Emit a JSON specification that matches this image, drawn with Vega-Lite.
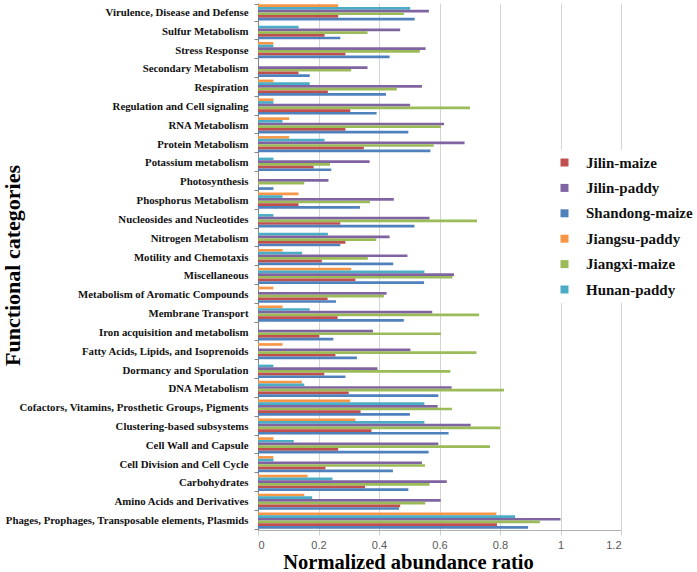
{
  "$schema": "https://vega.github.io/schema/vega-lite/v6.json",
  "width": 363,
  "height": 527,
  "autosize": "none",
  "padding": {"left": 258, "top": 3, "right": 76, "bottom": 42},
  "background": "white",
  "config": {"view": {"stroke": null}},
  "data": {"values": [
    {"c":"Virulence, Disease and Defense","s":"Jiangsu-paddy","v":0.265},{"c":"Virulence, Disease and Defense","s":"Hunan-paddy","v":0.503},{"c":"Virulence, Disease and Defense","s":"Jilin-paddy","v":0.565},{"c":"Virulence, Disease and Defense","s":"Jiangxi-maize","v":0.482},{"c":"Virulence, Disease and Defense","s":"Jilin-maize","v":0.265},{"c":"Virulence, Disease and Defense","s":"Shandong-maize","v":0.518},
    {"c":"Sulfur Metabolism","s":"Jiangsu-paddy","v":0},{"c":"Sulfur Metabolism","s":"Hunan-paddy","v":0.134},{"c":"Sulfur Metabolism","s":"Jilin-paddy","v":0.47},{"c":"Sulfur Metabolism","s":"Jiangxi-maize","v":0.362},{"c":"Sulfur Metabolism","s":"Jilin-maize","v":0.22},{"c":"Sulfur Metabolism","s":"Shandong-maize","v":0.272},
    {"c":"Stress Response","s":"Jiangsu-paddy","v":0.051},{"c":"Stress Response","s":"Hunan-paddy","v":0.051},{"c":"Stress Response","s":"Jilin-paddy","v":0.554},{"c":"Stress Response","s":"Jiangxi-maize","v":0.535},{"c":"Stress Response","s":"Jilin-maize","v":0.289},{"c":"Stress Response","s":"Shandong-maize","v":0.435},
    {"c":"Secondary Metabolism","s":"Jiangsu-paddy","v":0},{"c":"Secondary Metabolism","s":"Hunan-paddy","v":0},{"c":"Secondary Metabolism","s":"Jilin-paddy","v":0.362},{"c":"Secondary Metabolism","s":"Jiangxi-maize","v":0.308},{"c":"Secondary Metabolism","s":"Jilin-maize","v":0.134},{"c":"Secondary Metabolism","s":"Shandong-maize","v":0.171},
    {"c":"Respiration","s":"Jiangsu-paddy","v":0.051},{"c":"Respiration","s":"Hunan-paddy","v":0.171},{"c":"Respiration","s":"Jilin-paddy","v":0.542},{"c":"Respiration","s":"Jiangxi-maize","v":0.459},{"c":"Respiration","s":"Jilin-maize","v":0.231},{"c":"Respiration","s":"Shandong-maize","v":0.423},
    {"c":"Regulation and Cell signaling","s":"Jiangsu-paddy","v":0.051},{"c":"Regulation and Cell signaling","s":"Hunan-paddy","v":0.051},{"c":"Regulation and Cell signaling","s":"Jilin-paddy","v":0.503},{"c":"Regulation and Cell signaling","s":"Jiangxi-maize","v":0.701},{"c":"Regulation and Cell signaling","s":"Jilin-maize","v":0.305},{"c":"Regulation and Cell signaling","s":"Shandong-maize","v":0.392},
    {"c":"RNA Metabolism","s":"Jiangsu-paddy","v":0.103},{"c":"RNA Metabolism","s":"Hunan-paddy","v":0.081},{"c":"RNA Metabolism","s":"Jilin-paddy","v":0.615},{"c":"RNA Metabolism","s":"Jiangxi-maize","v":0.605},{"c":"RNA Metabolism","s":"Jilin-maize","v":0.289},{"c":"RNA Metabolism","s":"Shandong-maize","v":0.497},
    {"c":"Protein Metabolism","s":"Jiangsu-paddy","v":0.103},{"c":"Protein Metabolism","s":"Hunan-paddy","v":0.22},{"c":"Protein Metabolism","s":"Jilin-paddy","v":0.683},{"c":"Protein Metabolism","s":"Jiangxi-maize","v":0.581},{"c":"Protein Metabolism","s":"Jilin-maize","v":0.35},{"c":"Protein Metabolism","s":"Shandong-maize","v":0.57},
    {"c":"Potassium metabolism","s":"Jiangsu-paddy","v":0},{"c":"Potassium metabolism","s":"Hunan-paddy","v":0.051},{"c":"Potassium metabolism","s":"Jilin-paddy","v":0.369},{"c":"Potassium metabolism","s":"Jiangxi-maize","v":0.238},{"c":"Potassium metabolism","s":"Jilin-maize","v":0.184},{"c":"Potassium metabolism","s":"Shandong-maize","v":0.242},
    {"c":"Photosynthesis","s":"Jiangsu-paddy","v":0},{"c":"Photosynthesis","s":"Hunan-paddy","v":0},{"c":"Photosynthesis","s":"Jilin-paddy","v":0.233},{"c":"Photosynthesis","s":"Jiangxi-maize","v":0.153},{"c":"Photosynthesis","s":"Jilin-maize","v":0},{"c":"Photosynthesis","s":"Shandong-maize","v":0.051},
    {"c":"Phosphorus Metabolism","s":"Jiangsu-paddy","v":0.134},{"c":"Phosphorus Metabolism","s":"Hunan-paddy","v":0.081},{"c":"Phosphorus Metabolism","s":"Jilin-paddy","v":0.449},{"c":"Phosphorus Metabolism","s":"Jiangxi-maize","v":0.37},{"c":"Phosphorus Metabolism","s":"Jilin-maize","v":0.134},{"c":"Phosphorus Metabolism","s":"Shandong-maize","v":0.337},
    {"c":"Nucleosides and Nucleotides","s":"Jiangsu-paddy","v":0},{"c":"Nucleosides and Nucleotides","s":"Hunan-paddy","v":0.051},{"c":"Nucleosides and Nucleotides","s":"Jilin-paddy","v":0.567},{"c":"Nucleosides and Nucleotides","s":"Jiangxi-maize","v":0.724},{"c":"Nucleosides and Nucleotides","s":"Jilin-maize","v":0.272},{"c":"Nucleosides and Nucleotides","s":"Shandong-maize","v":0.517},
    {"c":"Nitrogen Metabolism","s":"Jiangsu-paddy","v":0},{"c":"Nitrogen Metabolism","s":"Hunan-paddy","v":0.231},{"c":"Nitrogen Metabolism","s":"Jilin-paddy","v":0.435},{"c":"Nitrogen Metabolism","s":"Jiangxi-maize","v":0.391},{"c":"Nitrogen Metabolism","s":"Jilin-maize","v":0.289},{"c":"Nitrogen Metabolism","s":"Shandong-maize","v":0.272},
    {"c":"Motility and Chemotaxis","s":"Jiangsu-paddy","v":0.081},{"c":"Motility and Chemotaxis","s":"Hunan-paddy","v":0.146},{"c":"Motility and Chemotaxis","s":"Jilin-paddy","v":0.494},{"c":"Motility and Chemotaxis","s":"Jiangxi-maize","v":0.363},{"c":"Motility and Chemotaxis","s":"Jilin-maize","v":0.211},{"c":"Motility and Chemotaxis","s":"Shandong-maize","v":0.447},
    {"c":"Miscellaneous","s":"Jiangsu-paddy","v":0.308},{"c":"Miscellaneous","s":"Hunan-paddy","v":0.55},{"c":"Miscellaneous","s":"Jilin-paddy","v":0.648},{"c":"Miscellaneous","s":"Jiangxi-maize","v":0.643},{"c":"Miscellaneous","s":"Jilin-maize","v":0.322},{"c":"Miscellaneous","s":"Shandong-maize","v":0.549},
    {"c":"Metabolism of Aromatic Compounds","s":"Jiangsu-paddy","v":0.051},{"c":"Metabolism of Aromatic Compounds","s":"Hunan-paddy","v":0},{"c":"Metabolism of Aromatic Compounds","s":"Jilin-paddy","v":0.425},{"c":"Metabolism of Aromatic Compounds","s":"Jiangxi-maize","v":0.416},{"c":"Metabolism of Aromatic Compounds","s":"Jilin-maize","v":0.23},{"c":"Metabolism of Aromatic Compounds","s":"Shandong-maize","v":0.258},
    {"c":"Membrane Transport","s":"Jiangsu-paddy","v":0.081},{"c":"Membrane Transport","s":"Hunan-paddy","v":0.171},{"c":"Membrane Transport","s":"Jilin-paddy","v":0.576},{"c":"Membrane Transport","s":"Jiangxi-maize","v":0.731},{"c":"Membrane Transport","s":"Jilin-maize","v":0.263},{"c":"Membrane Transport","s":"Shandong-maize","v":0.482},
    {"c":"Iron acquisition and metabolism","s":"Jiangsu-paddy","v":0},{"c":"Iron acquisition and metabolism","s":"Hunan-paddy","v":0},{"c":"Iron acquisition and metabolism","s":"Jilin-paddy","v":0.38},{"c":"Iron acquisition and metabolism","s":"Jiangxi-maize","v":0.605},{"c":"Iron acquisition and metabolism","s":"Jilin-maize","v":0.202},{"c":"Iron acquisition and metabolism","s":"Shandong-maize","v":0.249},
    {"c":"Fatty Acids, Lipids, and Isoprenoids","s":"Jiangsu-paddy","v":0.081},{"c":"Fatty Acids, Lipids, and Isoprenoids","s":"Hunan-paddy","v":0},{"c":"Fatty Acids, Lipids, and Isoprenoids","s":"Jilin-paddy","v":0.504},{"c":"Fatty Acids, Lipids, and Isoprenoids","s":"Jiangxi-maize","v":0.722},{"c":"Fatty Acids, Lipids, and Isoprenoids","s":"Jilin-maize","v":0.256},{"c":"Fatty Acids, Lipids, and Isoprenoids","s":"Shandong-maize","v":0.327},
    {"c":"Dormancy and Sporulation","s":"Jiangsu-paddy","v":0},{"c":"Dormancy and Sporulation","s":"Hunan-paddy","v":0.051},{"c":"Dormancy and Sporulation","s":"Jilin-paddy","v":0.395},{"c":"Dormancy and Sporulation","s":"Jiangxi-maize","v":0.636},{"c":"Dormancy and Sporulation","s":"Jilin-maize","v":0.219},{"c":"Dormancy and Sporulation","s":"Shandong-maize","v":0.289},
    {"c":"DNA Metabolism","s":"Jiangsu-paddy","v":0.145},{"c":"DNA Metabolism","s":"Hunan-paddy","v":0.153},{"c":"DNA Metabolism","s":"Jilin-paddy","v":0.64},{"c":"DNA Metabolism","s":"Jiangxi-maize","v":0.813},{"c":"DNA Metabolism","s":"Jilin-maize","v":0.3},{"c":"DNA Metabolism","s":"Shandong-maize","v":0.596},
    {"c":"Cofactors, Vitamins, Prosthetic Groups, Pigments","s":"Jiangsu-paddy","v":0.305},{"c":"Cofactors, Vitamins, Prosthetic Groups, Pigments","s":"Hunan-paddy","v":0.55},{"c":"Cofactors, Vitamins, Prosthetic Groups, Pigments","s":"Jilin-paddy","v":0.594},{"c":"Cofactors, Vitamins, Prosthetic Groups, Pigments","s":"Jiangxi-maize","v":0.641},{"c":"Cofactors, Vitamins, Prosthetic Groups, Pigments","s":"Jilin-maize","v":0.339},{"c":"Cofactors, Vitamins, Prosthetic Groups, Pigments","s":"Shandong-maize","v":0.502},
    {"c":"Clustering-based subsystems","s":"Jiangsu-paddy","v":0.322},{"c":"Clustering-based subsystems","s":"Hunan-paddy","v":0.55},{"c":"Clustering-based subsystems","s":"Jilin-paddy","v":0.703},{"c":"Clustering-based subsystems","s":"Jiangxi-maize","v":0.8},{"c":"Clustering-based subsystems","s":"Jilin-maize","v":0.375},{"c":"Clustering-based subsystems","s":"Shandong-maize","v":0.63},
    {"c":"Cell Wall and Capsule","s":"Jiangsu-paddy","v":0.051},{"c":"Cell Wall and Capsule","s":"Hunan-paddy","v":0.118},{"c":"Cell Wall and Capsule","s":"Jilin-paddy","v":0.596},{"c":"Cell Wall and Capsule","s":"Jiangxi-maize","v":0.767},{"c":"Cell Wall and Capsule","s":"Jilin-maize","v":0.265},{"c":"Cell Wall and Capsule","s":"Shandong-maize","v":0.564},
    {"c":"Cell Division and Cell Cycle","s":"Jiangsu-paddy","v":0.051},{"c":"Cell Division and Cell Cycle","s":"Hunan-paddy","v":0.051},{"c":"Cell Division and Cell Cycle","s":"Jilin-paddy","v":0.542},{"c":"Cell Division and Cell Cycle","s":"Jiangxi-maize","v":0.552},{"c":"Cell Division and Cell Cycle","s":"Jilin-maize","v":0.223},{"c":"Cell Division and Cell Cycle","s":"Shandong-maize","v":0.446},
    {"c":"Carbohydrates","s":"Jiangsu-paddy","v":0.164},{"c":"Carbohydrates","s":"Hunan-paddy","v":0.246},{"c":"Carbohydrates","s":"Jilin-paddy","v":0.624},{"c":"Carbohydrates","s":"Jiangxi-maize","v":0.567},{"c":"Carbohydrates","s":"Jilin-maize","v":0.354},{"c":"Carbohydrates","s":"Shandong-maize","v":0.497},
    {"c":"Amino Acids and Derivatives","s":"Jiangsu-paddy","v":0.153},{"c":"Amino Acids and Derivatives","s":"Hunan-paddy","v":0.179},{"c":"Amino Acids and Derivatives","s":"Jilin-paddy","v":0.604},{"c":"Amino Acids and Derivatives","s":"Jiangxi-maize","v":0.553},{"c":"Amino Acids and Derivatives","s":"Jilin-maize","v":0.47},{"c":"Amino Acids and Derivatives","s":"Shandong-maize","v":0.466},
    {"c":"Phages, Prophages, Transposable elements, Plasmids","s":"Jiangsu-paddy","v":0.788},{"c":"Phages, Prophages, Transposable elements, Plasmids","s":"Hunan-paddy","v":0.85},{"c":"Phages, Prophages, Transposable elements, Plasmids","s":"Jilin-paddy","v":1.0},{"c":"Phages, Prophages, Transposable elements, Plasmids","s":"Jiangxi-maize","v":0.932},{"c":"Phages, Prophages, Transposable elements, Plasmids","s":"Jilin-maize","v":0.79},{"c":"Phages, Prophages, Transposable elements, Plasmids","s":"Shandong-maize","v":0.893}
  ]},
  "mark": {"type": "bar"},
  "encoding": {
    "y": {
      "field": "c", "type": "nominal", "sort": null,
      "scale": {"paddingInner": 0.14, "paddingOuter": 0.07},
      "axis": {
        "title": "Functional categories",
        "titleFont": "Liberation Serif", "titleFontSize": 22, "titleFontWeight": "bold", "titleColor": "black",
        "titleAngle": -90, "titleX": -239, "titleY": 262, "titleAlign": "center", "titleBaseline": "alphabetic",
        "labelFont": "Liberation Serif", "labelFontSize": 10.8, "labelFontWeight": "bold", "labelColor": "#111",
        "labelPadding": 6, "tickSize": 4, "tickBand": "extent", "tickColor": "#868686", "domainColor": "#868686",
        "grid": false, "labelLimit": 400
      }
    },
    "yOffset": {
      "field": "s", "type": "nominal",
      "scale": {"domain": ["Jiangsu-paddy", "Hunan-paddy", "Jilin-paddy", "Jiangxi-maize", "Jilin-maize", "Shandong-maize"]}
    },
    "x": {
      "field": "v", "type": "quantitative",
      "scale": {"domain": [0, 1.2], "nice": false},
      "axis": {
        "title": "Normalized abundance ratio",
        "titleFont": "Liberation Serif", "titleFontSize": 20.5, "titleFontWeight": "bold", "titleColor": "black",
        "titleX": 150, "titleY": 38, "titleBaseline": "alphabetic", "titleAlign": "center",
        "values": [0, 0.2, 0.4, 0.6, 0.8, 1, 1.2], "format": "~g",
        "labelFont": "Liberation Sans", "labelFontSize": 11, "labelColor": "#595959",
        "tickSize": 5, "labelPadding": 4, "tickColor": "#D0D0D0", "domainColor": "#B0B0B0",
        "grid": true, "gridColor": "#D4D4D4", "gridWidth": 1
      }
    },
    "color": {
      "field": "s", "type": "nominal",
      "scale": {
        "domain": ["Jilin-maize", "Jilin-paddy", "Shandong-maize", "Jiangsu-paddy", "Jiangxi-maize", "Hunan-paddy"],
        "range": ["#C0504D", "#8064A2", "#4F81BD", "#F79646", "#9BBB59", "#4BACC6"]
      },
      "legend": {
        "orient": "none", "legendX": 294, "legendY": 147,
        "title": null, "fillColor": "white", "padding": 5,
        "symbolType": "square", "symbolSize": 64, "symbolStrokeWidth": 0,
        "labelFont": "Liberation Serif", "labelFontSize": 15, "labelFontWeight": "bold", "labelColor": "#111",
        "labelOffset": 14, "rowPadding": 9.4, "labelLimit": 300
      }
    }
  }
}
